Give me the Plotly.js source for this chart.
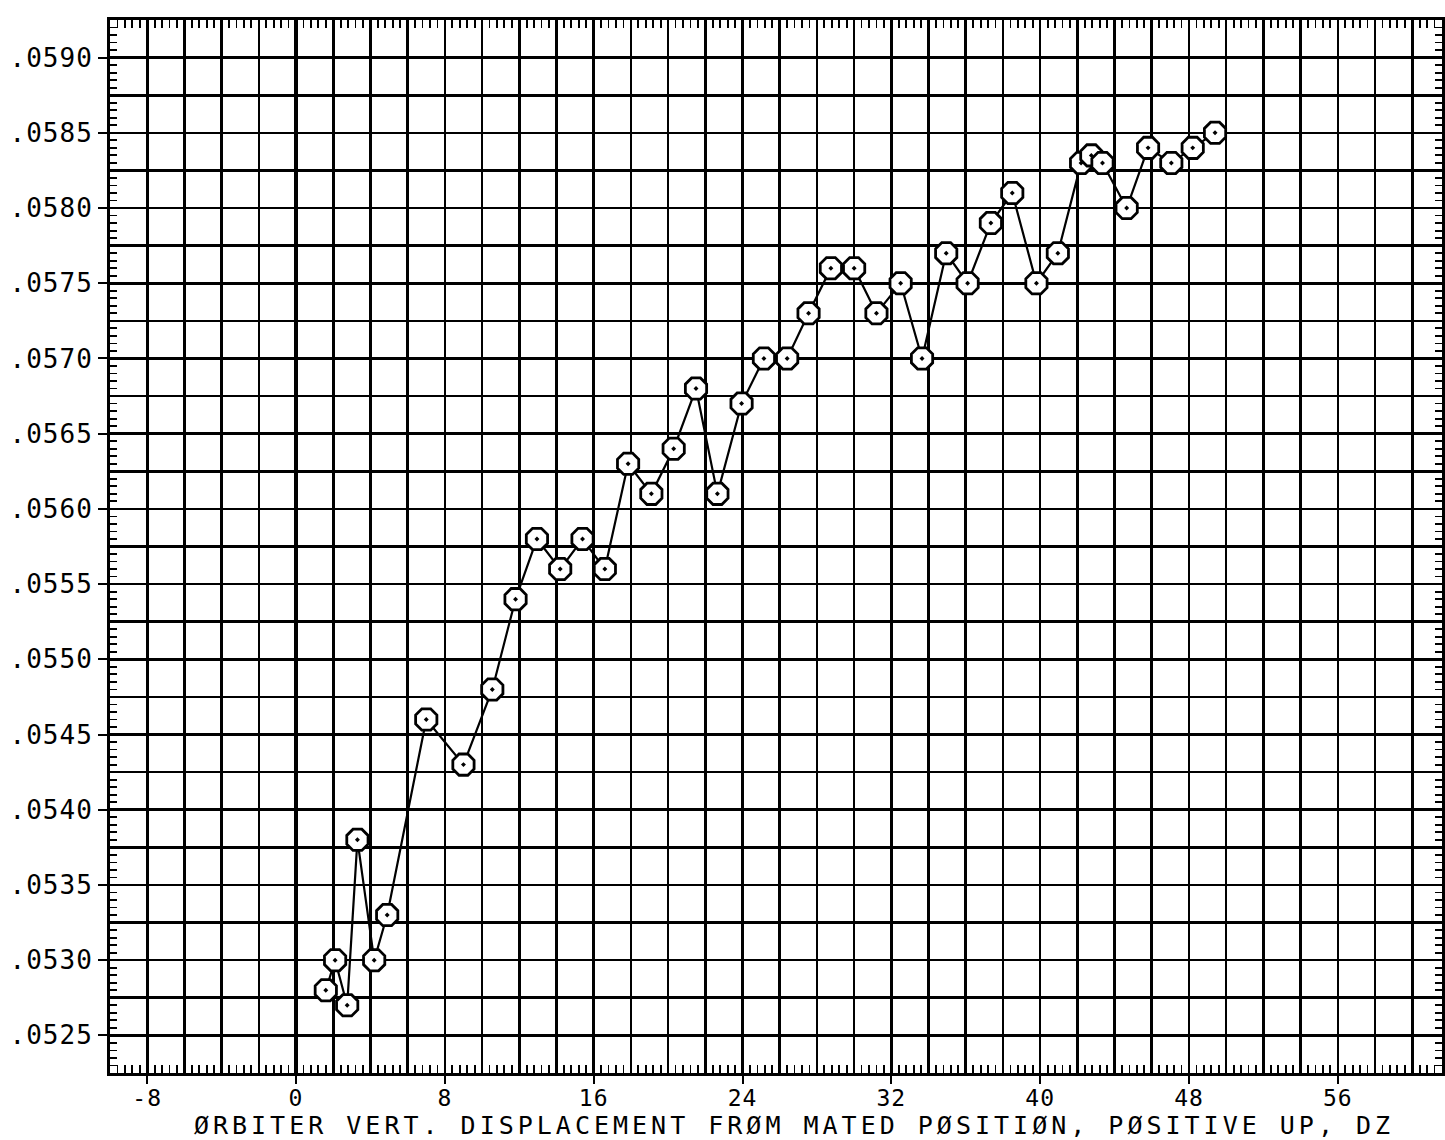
<!DOCTYPE html>
<html>
<head>
<meta charset="utf-8">
<script src="https://cdn.plot.ly/plotly-3.0.1.min.js"></script>
<style>
  html, body { margin: 0; padding: 0; background: #fff; }
  #chart { width: 1445px; height: 1140px; }
  .g-xtitle text { letter-spacing: 4px; transform: translateX(18px); }
  .xtick text { letter-spacing: 1px; }
  .ytick text { letter-spacing: 1px; }
</style>
</head>
<body>
<div id="chart"></div>
<script>
// Orbiter vertical displacement DZ (x) and measured coefficient (y)
const dz = [1.6, 2.1, 2.75, 3.3, 4.2, 4.9, 7.0, 9.0, 10.55, 11.8, 12.95, 14.2, 15.4, 16.6,
            17.85, 19.1, 20.3, 21.5, 22.65, 23.95, 25.15, 26.4, 27.55, 28.75, 30.0, 31.2,
            32.5, 33.65, 34.95, 36.1, 37.35, 38.5, 39.8, 40.95, 42.2, 42.75, 43.35, 44.65,
            45.8, 47.05, 48.2, 49.4];
const coef = [0.0528, 0.0530, 0.0527, 0.0538, 0.0530, 0.0533, 0.0546, 0.0543, 0.0548, 0.0554,
              0.0558, 0.0556, 0.0558, 0.0556, 0.0563, 0.0561, 0.0564, 0.0568, 0.0561, 0.0567,
              0.0570, 0.0570, 0.0573, 0.0576, 0.0576, 0.0573, 0.0575, 0.0570, 0.0577, 0.0575,
              0.0579, 0.0581, 0.0575, 0.0577, 0.0583, 0.05835, 0.0583, 0.0580, 0.0584, 0.0583,
              0.0584, 0.0585];

const xTickVals = [-8, 0, 8, 16, 24, 32, 40, 48, 56];
const xTickLabels = ['-8', '0', '8', '16', '24', '32', '40', '48', '56'];
const yTickVals = [0.0525, 0.0530, 0.0535, 0.0540, 0.0545, 0.0550, 0.0555, 0.0560,
                   0.0565, 0.0570, 0.0575, 0.0580, 0.0585, 0.0590];
const yTickLabels = ['.0525', '.0530', '.0535', '.0540', '.0545', '.0550', '.0555', '.0560',
                     '.0565', '.0570', '.0575', '.0580', '.0585', '.0590'];

const xTitle = 'ØRBITER VERT. DISPLACEMENT FRØM MATED PØSITIØN, PØSITIVE UP, DZ';

const xRange = [-10, 61.6];
const yRange = [0.05225, 0.05925];

const FONT = 'DejaVu Sans Mono, monospace';

const traces = [
  {
    type: 'scatter',
    mode: 'lines+markers',
    x: dz,
    y: coef,
    line: { color: '#000', width: 2.2 },
    marker: {
      symbol: 'octagon-dot',
      size: 23,
      color: '#fff',
      line: { color: '#000', width: 2.8 }
    },
    showlegend: false,
    hoverinfo: 'x+y'
  },
  {
    type: 'scatter',
    mode: 'markers',
    x: [],
    y: [],
    xaxis: 'x2',
    yaxis: 'y2',
    showlegend: false,
    hoverinfo: 'skip'
  }
];

const layout = {
  width: 1445,
  height: 1140,
  paper_bgcolor: '#fff',
  plot_bgcolor: '#fff',
  margin: { l: 110, r: 3, t: 20, b: 67 },
  font: { family: FONT, color: '#000' },
  showlegend: false,
  xaxis: {
    range: xRange,
    tickmode: 'array',
    tickvals: xTickVals,
    ticktext: xTickLabels,
    ticks: 'outside',
    ticklen: 8,
    tickwidth: 2,
    tickcolor: '#000',
    ticklabelstandoff: -6,
    tickfont: { family: FONT, size: 23, color: '#000' },
    showgrid: true,
    gridcolor: '#000',
    gridwidth: 2.6,
    minor: { tick0: 0, dtick: 2, showgrid: true, gridcolor: '#000', gridwidth: 2.6, ticks: '' },
    zeroline: true,
    zerolinecolor: '#000',
    zerolinewidth: 4.5,
    showline: true,
    linecolor: '#000',
    linewidth: 3,
    mirror: true,
    title: { text: xTitle, font: { family: FONT, size: 25, color: '#000' }, standoff: 0 }
  },
  yaxis: {
    range: yRange,
    tickmode: 'array',
    tickvals: yTickVals,
    ticktext: yTickLabels,
    ticks: 'outside',
    ticklen: 9,
    tickwidth: 2,
    tickcolor: '#000',
    tickfont: { family: FONT, size: 26, color: '#000' },
    showgrid: true,
    gridcolor: '#000',
    gridwidth: 2.6,
    minor: { tick0: 0.0525, dtick: 0.00025, showgrid: true, gridcolor: '#000', gridwidth: 2.6, ticks: '' },
    zeroline: false,
    showline: true,
    linecolor: '#000',
    linewidth: 3,
    mirror: true
  },
  xaxis2: {
    overlaying: 'x',
    anchor: 'y',
    side: 'bottom',
    range: xRange,
    tickmode: 'linear',
    tick0: 0,
    dtick: 0.4,
    ticks: 'inside',
    ticklen: 8,
    tickwidth: 1.8,
    tickcolor: '#000',
    showticklabels: false,
    showgrid: false,
    zeroline: false,
    showline: false,
    mirror: 'ticks'
  },
  yaxis2: {
    overlaying: 'y',
    anchor: 'x',
    side: 'left',
    range: yRange,
    tickmode: 'linear',
    tick0: 0.05225,
    dtick: 0.00005,
    ticks: 'inside',
    ticklen: 7,
    tickwidth: 1.8,
    tickcolor: '#000',
    showticklabels: false,
    showgrid: false,
    zeroline: false,
    showline: false,
    mirror: 'ticks'
  }
};

Plotly.newPlot('chart', traces, layout, { staticPlot: true, displayModeBar: false });
</script>
</body>
</html>
